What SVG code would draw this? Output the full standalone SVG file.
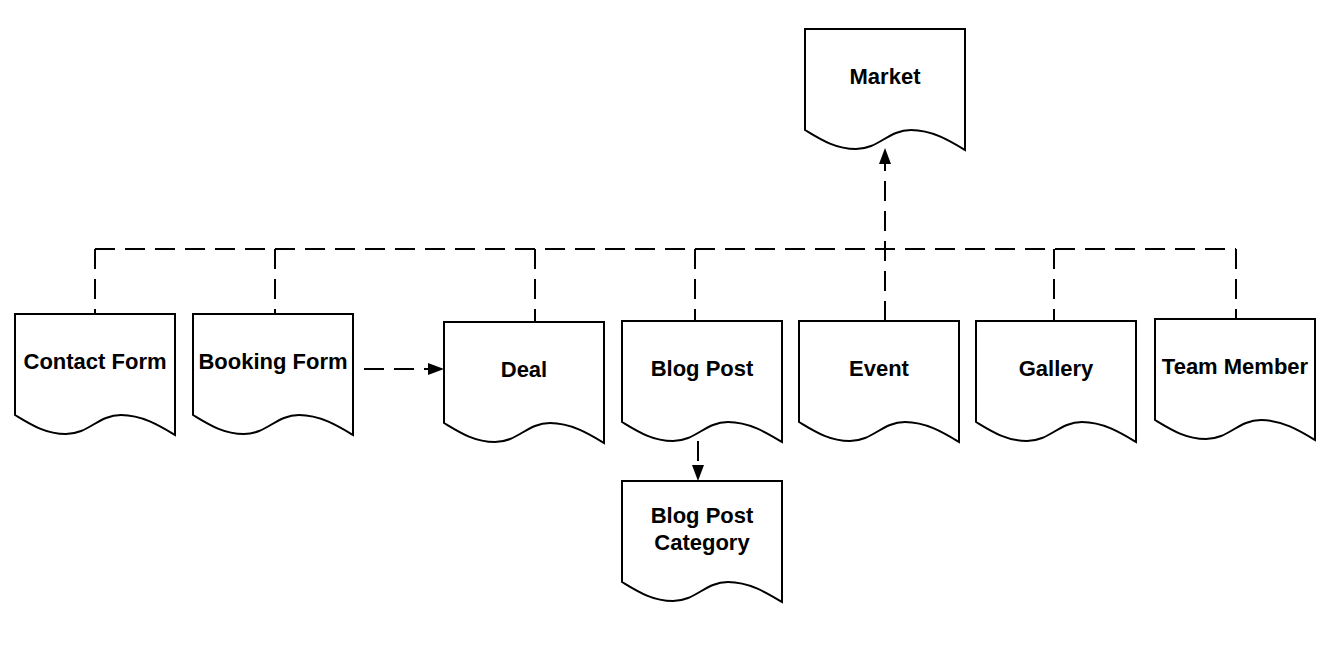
<svg xmlns="http://www.w3.org/2000/svg" xmlns:xlink="http://www.w3.org/1999/xlink" width="1327" height="656" viewBox="0 0 1327 656">
<style>
.doc{fill:#ffffff;stroke:#000000;stroke-width:2;stroke-linejoin:miter}
.lbl{font-family:"Liberation Sans",Arial,sans-serif;font-weight:bold;font-size:22px;fill:#000000;text-anchor:middle}
.edge{fill:none;stroke:#000000;stroke-width:2;stroke-dasharray:20 10}
</style>
<defs>
<path id="docshape" d="M0,0 H160 V121 C145,112 127,101 106,101 C83,101 74,120 51,120 C30,120 15,110 0,101 Z"/>
<marker id="arrow" viewBox="0 0 16 12" refX="0" refY="6" markerWidth="16" markerHeight="12" markerUnits="userSpaceOnUse" orient="auto">
<path d="M0,0 L16,6 L0,12 Z" fill="#000000"/>
</marker>
</defs>
<rect x="0" y="0" width="1327" height="656" fill="#ffffff"/>
<g id="connectors">
<path class="edge" d="M95,249 H1236"/>
<path class="edge" d="M95,249 V314"/>
<path class="edge" d="M275,249 V314"/>
<path class="edge" d="M535,249 V322"/>
<path class="edge" d="M695,249 V321"/>
<path class="edge" d="M1054,249 V321"/>
<path class="edge" d="M1236,249 V319"/>
<path class="edge" d="M885,321 V164" marker-end="url(#arrow)"/>
<path class="edge" d="M364,369 H428" marker-end="url(#arrow)"/>
<path class="edge" d="M698,441 V465" marker-end="url(#arrow)"/>
</g>
<g id="market" transform="translate(805,29)"><use xlink:href="#docshape" class="doc"/><text class="lbl" x="80" y="55">Market</text></g>
<g id="contact-form" transform="translate(15,314)"><use xlink:href="#docshape" class="doc"/><text class="lbl" x="80" y="55">Contact Form</text></g>
<g id="booking-form" transform="translate(193,314)"><use xlink:href="#docshape" class="doc"/><text class="lbl" x="80" y="55">Booking Form</text></g>
<g id="deal" transform="translate(444,322)"><use xlink:href="#docshape" class="doc"/><text class="lbl" x="80" y="55">Deal</text></g>
<g id="blog-post" transform="translate(622,321)"><use xlink:href="#docshape" class="doc"/><text class="lbl" x="80" y="55">Blog Post</text></g>
<g id="event" transform="translate(799,321)"><use xlink:href="#docshape" class="doc"/><text class="lbl" x="80" y="55">Event</text></g>
<g id="gallery" transform="translate(976,321)"><use xlink:href="#docshape" class="doc"/><text class="lbl" x="80" y="55">Gallery</text></g>
<g id="team-member" transform="translate(1155,319)"><use xlink:href="#docshape" class="doc"/><text class="lbl" x="80" y="55">Team Member</text></g>
<g id="blog-post-category" transform="translate(622,481)"><use xlink:href="#docshape" class="doc"/><text class="lbl" x="80" y="42">Blog Post</text><text class="lbl" x="80" y="69">Category</text></g>
</svg>
